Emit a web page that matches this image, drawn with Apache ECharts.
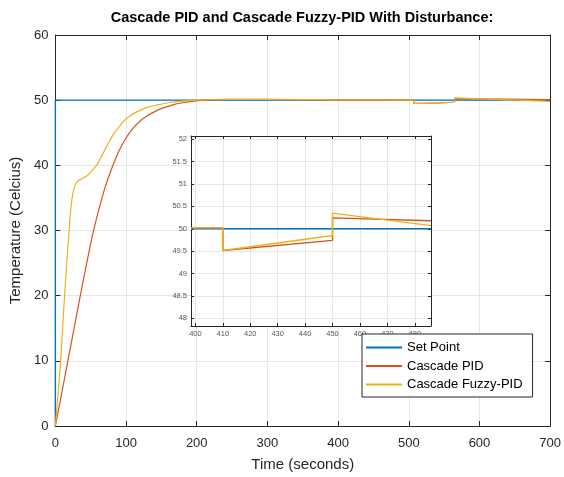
<!DOCTYPE html>
<html>
<head>
<meta charset="utf-8">
<script src="https://cdn.jsdelivr.net/npm/echarts@6/dist/echarts.min.js"></script>
<style>html,body{margin:0;padding:0;background:#fff;}#c{width:564px;height:477px;}</style>
</head>
<body>
<div id="c"></div>
<script>
// ---- data ----
var seriesNames = ['Set Point', 'Cascade PID', 'Cascade Fuzzy-PID'];
var xTicks = [0, 100, 200, 300, 400, 500, 600, 700];
var yTicks = [0, 10, 20, 30, 40, 50, 60];

var spT = [0, 0, 700];
var spV = [0, 50, 50];

var pidT = [0, 10, 20, 30, 40, 50, 55, 60, 70, 80, 90, 100, 110, 120, 130, 140, 150, 165, 180, 200, 220, 240, 300, 400, 507, 507, 565, 565, 700];
var pidV = [0, 5.6, 11.3, 17, 22.6, 28, 30.4, 32.6, 36.5, 39.6, 42.2, 44.2, 45.7, 46.8, 47.6, 48.2, 48.7, 49.25, 49.6, 49.9, 50.05, 50.12, 50.12, 50.05, 50.02, 49.5, 49.74, 50.24, 50.1];

var fuzT = [0, 4, 7.5, 13, 19.7, 22, 25, 28, 32, 37, 42, 47, 53, 59, 65, 71, 77, 83, 90, 97, 106, 115, 130, 143, 160, 176, 200, 240, 300, 400, 507, 507, 565, 565, 700];
var fuzV = [0, 5.3, 10, 20, 30.4, 33.5, 35.8, 37, 37.6, 37.9, 38.2, 38.6, 39.3, 40.1, 41.3, 42.6, 43.8, 44.9, 45.9, 46.8, 47.6, 48.2, 48.9, 49.25, 49.6, 49.8, 50.0, 50.1, 50.1, 50.05, 50.02, 49.5, 49.85, 50.35, 49.8];

// inset (zoomed view)
var insetXTicks = [400, 410, 420, 430, 440, 450, 460, 470, 480];
var insetYTicks = [48, 48.5, 49, 49.5, 50, 50.5, 51, 51.5, 52];
var inSpT = [398.4, 485.9];
var inSpV = [50, 50];
var inPidT = [398.4, 410, 410, 450, 450, 485.9];
var inPidV = [50.02, 50.02, 49.515, 49.74, 50.244, 50.18];
var inFuzT = [398.4, 410, 410, 450, 450, 485.9];
var inFuzV = [50.02, 50.02, 49.515, 49.85, 50.35, 50.07];

var colors = ['#0072BD', '#D95319', '#EDB120'];

function pairs(t, v) { return t.map(function (x, i) { return [x, v[i]]; }); }

var FONT = "'Liberation Sans', Arial, sans-serif";
var AX = '#262626';
var GRIDC = '#e6e6e6';

function mainX(pos, show) {
  return {
    type: 'value', gridIndex: 0, position: pos, min: 0, max: 700, interval: 100,
    axisLine: { show: true, onZero: false, lineStyle: { color: AX, width: 1 } },
    axisTick: { show: true, inside: true, length: 5, lineStyle: { color: AX } },
    axisLabel: { show: show, color: AX, fontFamily: FONT, fontSize: 13, margin: 11 },
    splitLine: { show: show, lineStyle: { color: GRIDC, width: 1 } },
    name: show ? 'Time (seconds)' : '', nameLocation: 'middle', nameGap: 31,
    nameTextStyle: { color: AX, fontFamily: FONT, fontSize: 15 },
    z: 1
  };
}
function mainY(pos, show) {
  return {
    type: 'value', gridIndex: 0, position: pos, min: 0, max: 60, interval: 10,
    axisLine: { show: true, onZero: false, lineStyle: { color: AX, width: 1 } },
    axisTick: { show: true, inside: true, length: 5, lineStyle: { color: AX } },
    axisLabel: { show: show, color: AX, fontFamily: FONT, fontSize: 13, margin: 7 },
    splitLine: { show: show, lineStyle: { color: GRIDC, width: 1 } },
    name: show ? 'Temperature (Celcius)' : '', nameLocation: 'middle', nameGap: 28,
    nameTextStyle: { color: AX, fontFamily: FONT, fontSize: 15 },
    z: 1
  };
}
function insetX(pos, show) {
  return {
    type: 'value', gridIndex: 1, position: pos, min: 398.4, max: 485.9,
    axisLine: { show: true, onZero: false, lineStyle: { color: AX, width: 1 } },
    axisTick: { show: true, inside: true, length: 3, customValues: insetXTicks, lineStyle: { color: AX } },
    axisLabel: { show: show, customValues: insetXTicks, color: '#555', fontFamily: FONT, fontSize: 7.5, margin: 4 },
    splitLine: { show: show, lineStyle: { color: GRIDC, width: 1 } },
    z: 11
  };
}
function insetY(pos, show) {
  return {
    type: 'value', gridIndex: 1, position: pos, min: 47.83, max: 52.07,
    axisLine: { show: true, onZero: false, lineStyle: { color: AX, width: 1 } },
    axisTick: { show: true, inside: true, length: 3, customValues: insetYTicks, lineStyle: { color: AX } },
    axisLabel: { show: show, customValues: insetYTicks, color: '#555', fontFamily: FONT, fontSize: 7.5, margin: 4 },
    splitLine: { show: show, lineStyle: { color: GRIDC, width: 1 } },
    z: 11
  };
}

function lineSeries(name, data, color, xi, yi, z, w, smooth) {
  return {
    type: 'line', name: name, data: data, xAxisIndex: xi, yAxisIndex: yi,
    showSymbol: false, symbol: 'none', smooth: smooth, animation: false,
    lineStyle: { color: color, width: w }, itemStyle: { color: color },
    z: z, clip: true
  };
}

var chart = echarts.init(document.getElementById('c'), null, { renderer: 'canvas' });
chart.setOption({
  animation: false,
  backgroundColor: '#fff',
  title: {
    text: 'Cascade PID and Cascade Fuzzy-PID With Disturbance:',
    left: 302, top: 10, textAlign: 'center', padding: 0,
    textStyle: { fontFamily: FONT, fontSize: 14.5, fontWeight: 'bold', color: '#000' }
  },
  grid: [
    { left: 54, right: 12, top: 35, bottom: 49, containLabel: false, z: 0 },
    { left: 191, right: 133, top: 136, bottom: 151, containLabel: false, show: true, backgroundColor: '#fff', borderWidth: 0, z: 10 }
  ],
  xAxis: [mainX('bottom', true), mainX('top', false), insetX('bottom', true), insetX('top', false)],
  yAxis: [mainY('left', true), mainY('right', false), insetY('left', true), insetY('right', false)],
  legend: {
    data: seriesNames, orient: 'vertical', left: 362, top: 334,
    icon: 'rect', itemWidth: 36, itemHeight: 2, itemGap: 5.5, itemTextGap: 5,
    padding: [7, 10, 6, 4],
    backgroundColor: '#fff', borderColor: AX, borderWidth: 1, borderRadius: 0,
    textStyle: { fontFamily: FONT, fontSize: 13, color: '#000' },
    z: 20
  },
  series: [
    lineSeries(seriesNames[0], pairs(spT, spV), colors[0], 0, 0, 2, 1.4, false),
    lineSeries(seriesNames[1], pairs(pidT, pidV), colors[1], 0, 0, 2, 1.2, 0.3),
    lineSeries(seriesNames[2], pairs(fuzT, fuzV), colors[2], 0, 0, 2, 1.2, 0.3),
    lineSeries(seriesNames[0], pairs(inSpT, inSpV), colors[0], 2, 2, 12, 1.4, false),
    lineSeries(seriesNames[1], pairs(inPidT, inPidV), colors[1], 2, 2, 12, 1.4, false),
    lineSeries(seriesNames[2], pairs(inFuzT, inFuzV), colors[2], 2, 2, 12, 1.4, false)
  ]
});
</script>
</body>
</html>
